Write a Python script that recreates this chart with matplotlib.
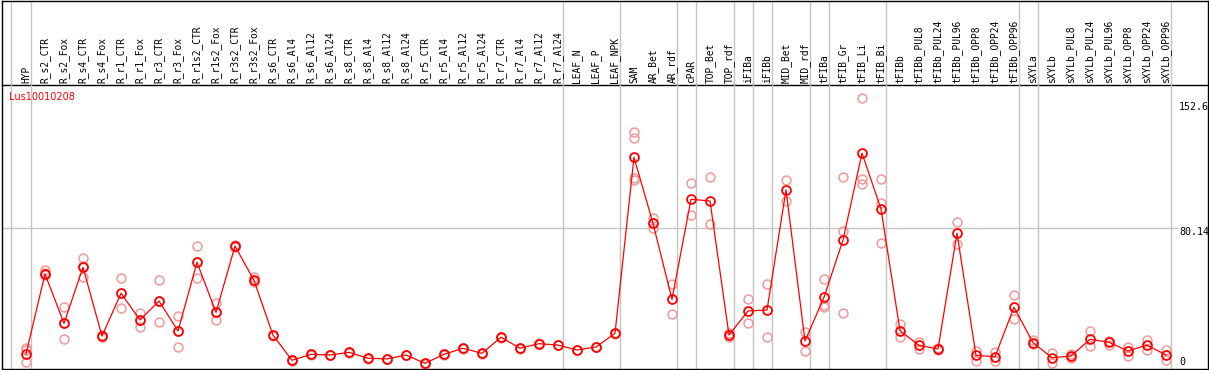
import matplotlib
matplotlib.use("Agg")
import matplotlib.pyplot as plt
import matplotlib.transforms as mtransforms

categories = [
    "HYP", "R_s2_CTR", "R_s2_Fox", "R_s4_CTR", "R_s4_Fox", "R_r1_CTR", "R_r1_Fox",
    "R_r3_CTR", "R_r3_Fox", "R_r1s2_CTR", "R_r1s2_Fox", "R_r3s2_CTR", "R_r3s2_Fox",
    "R_s6_CTR", "R_s6_Al4", "R_s6_Al12", "R_s6_Al24", "R_s8_CTR", "R_s8_Al4",
    "R_s8_Al12", "R_s8_Al24", "R_r5_CTR", "R_r5_Al4", "R_r5_Al12", "R_r5_Al24",
    "R_r7_CTR", "R_r7_Al4", "R_r7_Al12", "R_r7_Al24", "LEAF_N", "LEAF_P", "LEAF_NPK",
    "SAM", "AR_Bet", "AR_rdf", "cPAR", "TOP_Bet", "TOP_rdf", "iFIBa", "iFIBb",
    "MID_Bet", "MID_rdf", "tFIBa", "tFIB_Gr", "tFIB_Li", "tFIB_Bi", "tFIBb",
    "tFIBb_PUL8", "tFIBb_PUL24", "tFIBb_PUL96", "tFIBb_OPP8", "tFIBb_OPP24",
    "tFIBb_OPP96", "sXYLa", "sXYLb", "sXYLb_PUL8", "sXYLb_PUL24", "sXYLb_PUL96",
    "sXYLb_OPP8", "sXYLb_OPP24", "sXYLb_OPP96",
]

means = [
    5.9, 53.2, 24.0, 57.1, 16.5, 41.8, 26.0, 37.2, 19.5, 60.1, 30.5, 69.7, 49.4,
    17.0, 2.2, 5.7, 5.3, 6.9, 3.4, 3.0, 5.3, 0.4, 5.7, 9.3, 6.3, 15.8, 9.3, 12.0,
    11.2, 8.3, 10.0, 18.1,
    122.1, 83.1, 38.2, 97.3, 96.3, 17.1, 31.3, 31.9, 102.8, 13.6, 39.4, 73.2,
    124.5, 91.6, 19.7, 11.0, 8.9, 77.2, 5.1, 4.3, 33.5, 12.6, 3.7, 4.7, 14.6,
    12.8, 7.7, 11.2, 5.3,
]

replicates = [
    [9.3, 8.3, 1.4], [55.5, 53.6, 52.6], [33.5, 24.0, 14.8], [62.4, 57.7, 51.2],
    [17.1, 16.1, 16.4], [50.6, 41.8, 32.9], [29.9, 26.0, 21.7], [49.4, 37.2, 24.8],
    [28.5, 19.5, 10.0], [69.7, 60.1, 50.6], [35.9, 30.5, 26.0], [70.1, 69.7, 69.2],
    [51.2, 49.0, 48.2],
    [17.3, 16.8], [2.4, 2.0], [5.9, 5.5], [5.5, 5.1], [7.1, 6.7], [3.6, 3.2],
    [3.2, 2.8], [5.5, 5.1], [0.6, 0.2], [5.9, 5.5], [9.5, 9.1], [6.5, 6.1],
    [16.0, 15.6], [9.5, 9.1], [12.2, 11.8], [11.4, 11.0], [8.5, 8.1], [10.2, 9.8],
    [18.3, 17.9],
    [136.9, 133.3, 109.7, 108.7], [86.1, 83.0, 80.2], [47.3, 29.5], [106.7, 87.8],
    [110.3, 82.5], [18.1, 15.8, 17.4], [38.2, 24.0], [47.3, 15.8], [108.7, 96.3],
    [19.1, 7.9], [50.0, 34.8, 33.5], [110.3, 78.7, 29.9], [156.9, 109.1, 106.1],
    [109.1, 94.9, 71.3], [23.4, 15.8], [13.2, 8.9], [9.3, 8.5], [83.7, 70.9],
    [7.7, 1.9], [6.9, 1.9], [40.8, 26.4], [14.2, 11.8], [6.3, 0.4], [5.7, 3.4],
    [19.5, 10.6], [13.8, 11.2], [10.2, 4.9], [14.2, 8.1], [8.3, 2.4],
]

group_ends = [0, 28, 31, 34, 35, 37, 38, 39, 41, 42, 45, 52, 53, 60]
gene_id = "Lus10010208"
ytick_values = [0, 80.14, 152.6]
ytick_labels = ["0", "80.14", "152.6"]
ytick_shift_px = [-2.0, 4.0, 1.7]   # downward pixel shift of the label text

# ---- layout (pixel based) ----
W, H = 1209, 370
fig = plt.figure(figsize=(W / 100, H / 100), dpi=100)

def fx(px):
    return px / W

def fy(py):
    return 1 - py / H

X0, DX = 26.0, 19.0          # pixel x of first category, spacing
Y0, DY = 364.0, 1.693        # pixel y of value 0, pixels per unit
L_PX, R_PX, HEAD_PX, BOT_PX = 1.5, 1207.5, 85.0, 368.5

xlim = ((L_PX - X0) / DX, (R_PX - X0) / DX)

head = fig.add_axes([fx(L_PX), fy(HEAD_PX), fx(R_PX) - fx(L_PX), fy(0.7) - fy(HEAD_PX)])
ax = fig.add_axes([fx(L_PX), fy(BOT_PX), fx(R_PX) - fx(L_PX), fy(HEAD_PX) - fy(BOT_PX)])

for a in (head, ax):
    a.set_xlim(*xlim)
    a.set_xticks([])
    a.set_yticks([])
    a.patch.set_alpha(0)
    for s in a.spines.values():
        s.set_color("black")
        s.set_linewidth(1.0)
ax.spines["top"].set_visible(False)

ax.set_ylim((Y0 - BOT_PX) / DY, (Y0 - HEAD_PX) / DY)
head.set_ylim(0, 1)

grid_col = "#c4c4c4"
sep_positions = [-0.79] + [g + 0.25 for g in group_ends]
for a in (head, ax):
    for p in sep_positions:
        a.axvline(p, color=grid_col, lw=1.0, zorder=0)

# horizontal grid at the middle tick value
gx_end = (1177 - L_PX) / (R_PX - L_PX)
ax.axhline(ytick_values[1], xmin=0, xmax=gx_end, color=grid_col, lw=1.0, zorder=0)

# header labels
mono = "DejaVu Sans Mono"
for i, c in enumerate(categories):
    head.text(i, (HEAD_PX - 82.5) / HEAD_PX, c, rotation=90, ha="center", va="bottom",
              fontsize=6.9, family=mono, color="black")

# replicates
for i, reps in enumerate(replicates):
    ax.plot([i] * len(reps), reps, linestyle="none", marker="o", markersize=6.4,
            markerfacecolor="none", markeredgecolor="#ef9a9a", markeredgewidth=1.1,
            zorder=2, clip_on=False)

# mean line + markers
xs = list(range(len(categories)))
ax.plot(xs, means, color="#ff0000", lw=0.9, zorder=3)
ax.plot(xs, means, linestyle="none", marker="o", markersize=6.4,
        markerfacecolor="none", markeredgecolor="#ff0000", markeredgewidth=1.3, zorder=4)

# y labels on the right
xlab = (1179 - X0) / DX
for v, lab, sh in zip(ytick_values, ytick_labels, ytick_shift_px):
    tr = mtransforms.offset_copy(ax.transData, fig=fig, x=0, y=-sh * 72 / 100, units="points")
    ax.text(xlab, v, lab, transform=tr, ha="left", va="center", fontsize=7.2,
            family=mono, color="black", clip_on=False)

# gene id
fig.text(fx(9), fy(92.5), gene_id, ha="left", va="top", fontsize=7,
         family="DejaVu Sans", color="#ff0000")

fig.savefig("out.png", dpi=100)
